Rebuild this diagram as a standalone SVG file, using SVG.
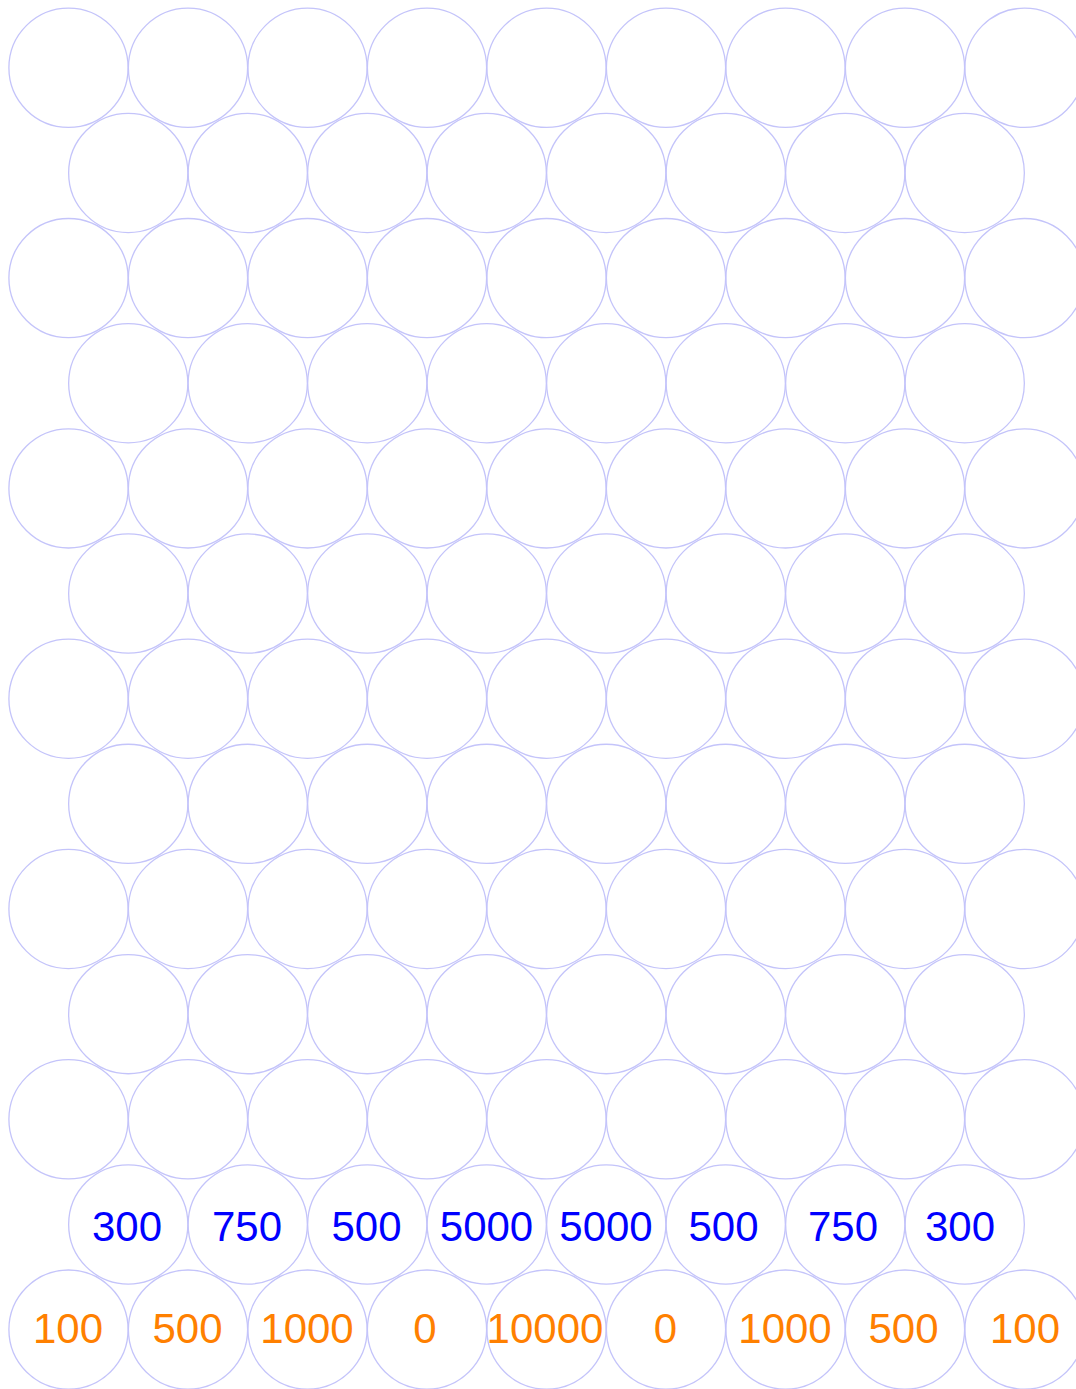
<svg xmlns="http://www.w3.org/2000/svg" xmlns:xlink="http://www.w3.org/1999/xlink" width="1076" height="1389" viewBox="0 0 1076 1389">
<style>
.peg{fill:none;stroke:#c4c4fa;stroke-width:1.3}
.lbl{font-family:"Liberation Sans",Arial,sans-serif;font-size:42px;text-anchor:middle}
.b{fill:#0000ff}
.o{fill:#ff8000}
</style>
<defs>
<circle id="p" class="peg" r="59.6"/>
<g id="r9"><use href="#p" x="68.5"/><use href="#p" x="188"/><use href="#p" x="307.5"/><use href="#p" x="427"/><use href="#p" x="546.5"/><use href="#p" x="666"/><use href="#p" x="785.5"/><use href="#p" x="905"/><use href="#p" x="1024.5"/></g>
<g id="r8"><use href="#p" x="128.25"/><use href="#p" x="247.75"/><use href="#p" x="367.25"/><use href="#p" x="486.75"/><use href="#p" x="606.25"/><use href="#p" x="725.75"/><use href="#p" x="845.25"/><use href="#p" x="964.75"/></g>
</defs>
<rect width="1076" height="1389" fill="#ffffff"/>
<g id="pegs">
<use id="row0" href="#r9" y="67.8"/>
<use id="row1" href="#r8" y="172.95"/>
<use id="row2" href="#r9" y="278.1"/>
<use id="row3" href="#r8" y="383.25"/>
<use id="row4" href="#r9" y="488.4"/>
<use id="row5" href="#r8" y="593.55"/>
<use id="row6" href="#r9" y="698.7"/>
<use id="row7" href="#r8" y="803.85"/>
<use id="row8" href="#r9" y="909"/>
<use id="row9" href="#r8" y="1014.15"/>
<use id="row10" href="#r9" y="1119.3"/>
</g>
<g id="prize-row-blue">
<g id="b1"><use href="#p" x="128.25" y="1224.45"/><text class="lbl b" x="127" y="1241">300</text></g>
<g id="b2"><use href="#p" x="247.75" y="1224.45"/><text class="lbl b" x="247" y="1241">750</text></g>
<g id="b3"><use href="#p" x="367.25" y="1224.45"/><text class="lbl b" x="366.5" y="1241">500</text></g>
<g id="b4"><use href="#p" x="486.75" y="1224.45"/><text class="lbl b" x="486.5" y="1241">5000</text></g>
<g id="b5"><use href="#p" x="606.25" y="1224.45"/><text class="lbl b" x="606" y="1241">5000</text></g>
<g id="b6"><use href="#p" x="725.75" y="1224.45"/><text class="lbl b" x="723.5" y="1241">500</text></g>
<g id="b7"><use href="#p" x="845.25" y="1224.45"/><text class="lbl b" x="843" y="1241">750</text></g>
<g id="b8"><use href="#p" x="964.75" y="1224.45"/><text class="lbl b" x="960" y="1241">300</text></g>
</g>
<g id="prize-row-orange">
<g id="o1"><use href="#p" x="68.5" y="1329.6"/><text class="lbl o" x="68" y="1343">100</text></g>
<g id="o2"><use href="#p" x="188" y="1329.6"/><text class="lbl o" x="187.5" y="1343">500</text></g>
<g id="o3"><use href="#p" x="307.5" y="1329.6"/><text class="lbl o" x="307" y="1343">1000</text></g>
<g id="o4"><use href="#p" x="427" y="1329.6"/><text class="lbl o" x="425" y="1343">0</text></g>
<g id="o5"><use href="#p" x="546.5" y="1329.6"/><text class="lbl o" x="545" y="1343">10000</text></g>
<g id="o6"><use href="#p" x="666" y="1329.6"/><text class="lbl o" x="665.5" y="1343">0</text></g>
<g id="o7"><use href="#p" x="785.5" y="1329.6"/><text class="lbl o" x="785" y="1343">1000</text></g>
<g id="o8"><use href="#p" x="905" y="1329.6"/><text class="lbl o" x="903.5" y="1343">500</text></g>
<g id="o9"><use href="#p" x="1024.5" y="1329.6"/><text class="lbl o" x="1025" y="1343">100</text></g>
</g>
<g id="connectors"/>
</svg>
